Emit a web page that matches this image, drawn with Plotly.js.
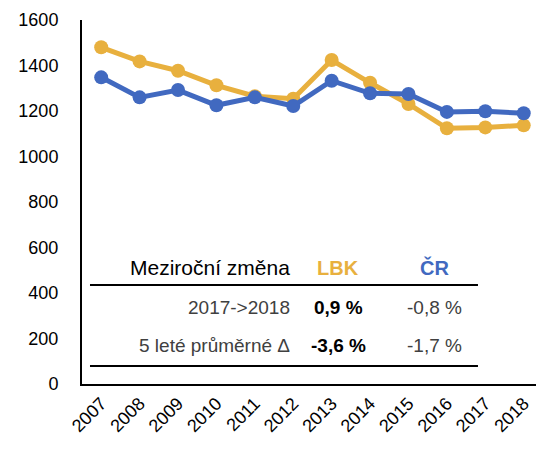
<!DOCTYPE html>
<html>
<head>
<meta charset="utf-8">
<script src="https://cdn.plot.ly/plotly-3.0.1.min.js"></script>
<style>html,body{margin:0;padding:0;background:#fff;}#chart{width:536px;height:449px;}</style>
</head>
<body>
<div id="chart"></div>
<script>
const years = ['2007','2008','2009','2010','2011','2012','2013','2014','2015','2016','2017','2018'];
const lbk = [1480,1418,1377,1313,1265,1254,1424,1324,1231,1124,1128,1137];
const cr  = [1348,1260,1292,1225,1260,1222,1333,1278,1275,1196,1199,1190];
const yTicks = [0,200,400,600,800,1000,1200,1400,1600];
const tableHeader = ['Meziroční změna','LBK','ČR'];
const tableRows = [
  ['2017->2018','0,9 %','-0,8 %'],
  ['5 leté průměrné Δ','-3,6 %','-1,7 %']
];
const gold = '#E8B03E';
const blue = '#4169C0';
const font = 'Liberation Sans, Arial, sans-serif';

const traces = [
  {x: years, y: lbk, mode: 'lines+markers', name: 'LBK', line: {color: gold, width: 5}, marker: {color: gold, size: 14}, cliponaxis: false},
  {x: years, y: cr, mode: 'lines+markers', name: 'ČR', line: {color: blue, width: 5}, marker: {color: blue, size: 14}, cliponaxis: false}
];

const colX = [0.4626, 0.5639, 0.7775];
const rowY = [0.2088, 0.1044];
const ann = [];
ann.push({xref:'paper', yref:'paper', x: colX[0], y: 0.3187, xanchor:'right', yanchor:'middle', text: tableHeader[0], showarrow:false, font:{family:font, size:21, color:'#000'}});
ann.push({xref:'paper', yref:'paper', x: colX[1], y: 0.3187, xanchor:'center', yanchor:'middle', text: '<b>'+tableHeader[1]+'</b>', showarrow:false, font:{family:font, size:20, color:gold}});
ann.push({xref:'paper', yref:'paper', x: colX[2], y: 0.3187, xanchor:'center', yanchor:'middle', text: '<b>'+tableHeader[2]+'</b>', showarrow:false, font:{family:font, size:20, color:blue}});
tableRows.forEach((r, i) => {
  ann.push({xref:'paper', yref:'paper', x: colX[0], y: rowY[i], xanchor:'right', yanchor:'middle', text: r[0], showarrow:false, font:{family:font, size:19, color:'#404040'}});
  ann.push({xref:'paper', yref:'paper', x: colX[1], y: rowY[i], xanchor:'center', yanchor:'middle', text: '<b>'+r[1]+'</b>', showarrow:false, font:{family:font, size:19, color:'#000'}});
  ann.push({xref:'paper', yref:'paper', x: colX[2], y: rowY[i], xanchor:'center', yanchor:'middle', text: r[2], showarrow:false, font:{family:font, size:19, color:'#404040'}});
});

const layout = {
  width: 536, height: 449,
  margin: {l: 82, r: 0, t: 20, b: 65},
  paper_bgcolor: '#fff', plot_bgcolor: '#fff',
  showlegend: false,
  font: {family: font, size: 18, color: '#000'},
  xaxis: {type: 'category', range: [-0.5, 11.32], showline: true, linecolor: '#000', linewidth: 2, showgrid: false, zeroline: false, ticks: '', tickangle: -45, tickfont: {size: 18, color: '#000'}, fixedrange: true},
  yaxis: {range: [0, 1600], tickvals: yTicks, ticktext: yTicks.map(String), showline: true, linecolor: '#000', linewidth: 2, showgrid: false, zeroline: false, ticks: '', ticklabelstandoff: 18, tickfont: {size: 18, color: '#000'}, fixedrange: true},
  annotations: ann,
  shapes: [
    {type:'line', xref:'paper', yref:'paper', x0:0.0176, x1:0.8722, y0:0.272, y1:0.272, line:{color:'#000', width:2}},
    {type:'line', xref:'paper', yref:'paper', x0:0.0176, x1:0.8722, y0:0.0495, y1:0.0495, line:{color:'#000', width:2}}
  ]
};
Plotly.newPlot('chart', traces, layout, {displayModeBar: false, staticPlot: true});
</script>
</body>
</html>
